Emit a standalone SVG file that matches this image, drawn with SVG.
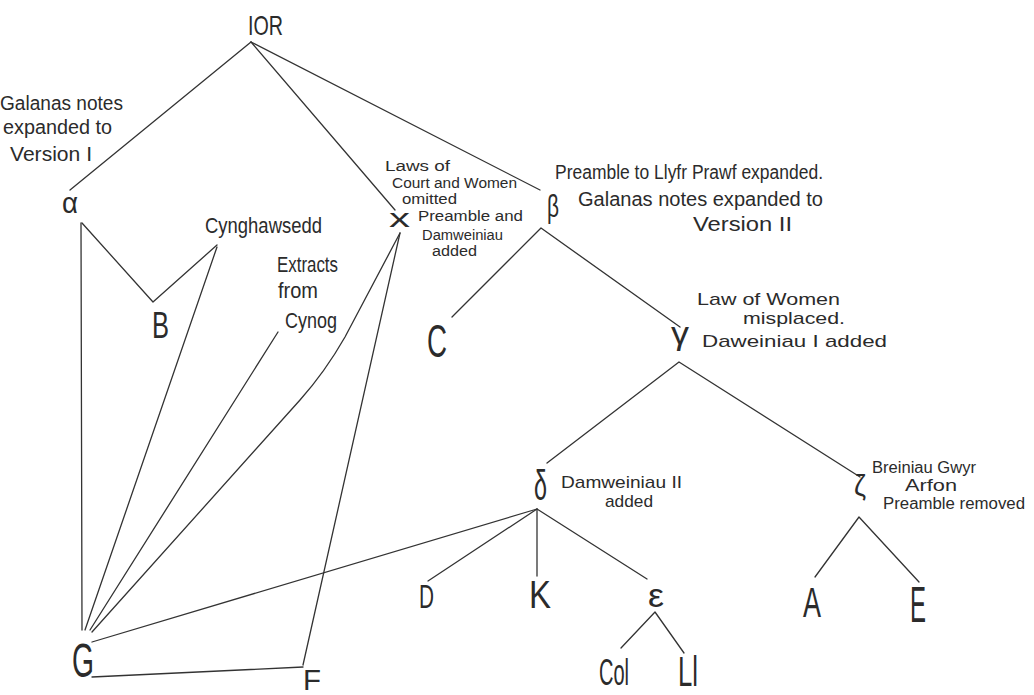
<svg xmlns="http://www.w3.org/2000/svg" width="1034" height="695" viewBox="0 0 1034 695">
<style>
.l{stroke:#333;stroke-width:1.3;fill:none;stroke-linecap:round;stroke-linejoin:round}
text{font-family:"Liberation Sans",Arial,sans-serif;fill:#2b2b2b}
.a{font-size:20px}
.s{font-size:14px}
.m{font-size:17px}
.z{font-size:16px}
</style>
<rect width="1034" height="695" fill="#ffffff"/>
<g id="connectors">
<path class="l" d="M251,42 L70,190"/>
<path class="l" d="M251,42 L395,210"/>
<path class="l" d="M251,42 L540,190"/>
<path class="l" d="M81,223 L82,630"/>
<path class="l" d="M82,223 L153,302 L217,245"/>
<path class="l" d="M217,247 L85,630"/>
<path class="l" d="M278,332 L90,630"/>
<path class="l" d="M400,233 L345,337 Q325,372 300,400 L92,632"/>
<path class="l" d="M400,233 L303,665"/>
<path class="l" d="M92,677 L303,667"/>
<path class="l" d="M537,509 L92,642"/>
<path class="l" d="M452,317 L541,228 L680,327"/>
<path class="l" d="M547,463 L679,362 L860,477"/>
<path class="l" d="M428,581 L537,509 L647,579"/>
<path class="l" d="M537,509 L537,576"/>
<path class="l" d="M621,648 L655,612 L684,653"/>
<path class="l" d="M815,577 L859,517 L919,582"/>
</g>
<g id="node-IOR"><text x="248" y="35" font-size="28" textLength="35" lengthAdjust="spacingAndGlyphs">IOR</text></g>
<g id="node-alpha">
<text x="62" y="213" font-size="30" textLength="16" lengthAdjust="spacingAndGlyphs">α</text>
<text class="a" x="0" y="110" textLength="123" lengthAdjust="spacingAndGlyphs">Galanas notes</text>
<text class="a" x="3" y="134" textLength="109" lengthAdjust="spacingAndGlyphs">expanded to</text>
<text class="a" x="10" y="161" textLength="82" lengthAdjust="spacingAndGlyphs">Version I</text>
</g>
<g id="node-x">
<text x="389" y="227" font-size="26" textLength="21" lengthAdjust="spacingAndGlyphs">x</text>
<text class="s" x="385" y="171" textLength="65" lengthAdjust="spacingAndGlyphs">Laws of</text>
<text class="s" x="392" y="188" textLength="125" lengthAdjust="spacingAndGlyphs">Court and Women</text>
<text class="s" x="402" y="204" textLength="55" lengthAdjust="spacingAndGlyphs">omitted</text>
<text class="s" x="418" y="221" textLength="105" lengthAdjust="spacingAndGlyphs">Preamble and</text>
<text class="s" x="422" y="240" textLength="81" lengthAdjust="spacingAndGlyphs">Damweiniau</text>
<text class="s" x="432" y="256" textLength="45" lengthAdjust="spacingAndGlyphs">added</text>
</g>
<g id="node-beta">
<text x="547" y="217" font-size="32" textLength="12" lengthAdjust="spacingAndGlyphs">β</text>
<text font-size="20" x="555" y="179" textLength="268" lengthAdjust="spacingAndGlyphs">Preamble to Llyfr Prawf expanded.</text>
<text font-size="20" x="578" y="206" textLength="245" lengthAdjust="spacingAndGlyphs">Galanas notes expanded to</text>
<text font-size="20" x="693" y="231" textLength="99" lengthAdjust="spacingAndGlyphs">Version II</text>
</g>
<g id="node-Cynghawsedd"><text font-size="22" x="205" y="233" textLength="117" lengthAdjust="spacingAndGlyphs">Cynghawsedd</text></g>
<g id="node-Cynog">
<text font-size="22" x="277" y="272" textLength="61" lengthAdjust="spacingAndGlyphs">Extracts</text>
<text font-size="22" x="278" y="298" textLength="40" lengthAdjust="spacingAndGlyphs">from</text>
<text font-size="22" x="285" y="328" textLength="52" lengthAdjust="spacingAndGlyphs">Cynog</text>
</g>
<g id="node-B"><text x="152" y="338" font-size="36" textLength="17" lengthAdjust="spacingAndGlyphs">B</text></g>
<g id="node-C"><text x="427" y="357" font-size="46" textLength="20" lengthAdjust="spacingAndGlyphs">C</text></g>
<g id="node-gamma">
<text x="671" y="344" font-size="32" textLength="18" lengthAdjust="spacingAndGlyphs">γ</text>
<text class="m" x="697" y="305" textLength="143" lengthAdjust="spacingAndGlyphs">Law of Women</text>
<text class="m" x="743" y="324" textLength="102" lengthAdjust="spacingAndGlyphs">misplaced.</text>
<text class="m" font-size="19" x="702" y="347" textLength="185" lengthAdjust="spacingAndGlyphs">Daweiniau I added</text>
</g>
<g id="node-delta">
<text x="534" y="500" font-size="42" textLength="13" lengthAdjust="spacingAndGlyphs">δ</text>
<text class="m" x="561" y="488" textLength="121" lengthAdjust="spacingAndGlyphs">Damweiniau II</text>
<text class="m" x="605" y="507" textLength="48" lengthAdjust="spacingAndGlyphs">added</text>
</g>
<g id="node-zeta">
<text x="854" y="496" font-size="30" textLength="12" lengthAdjust="spacingAndGlyphs">ζ</text>
<text class="z" x="872" y="473" textLength="104" lengthAdjust="spacingAndGlyphs">Breiniau Gwyr</text>
<text class="z" x="905" y="491" textLength="52" lengthAdjust="spacingAndGlyphs">Arfon</text>
<text class="z" x="883" y="509" textLength="142" lengthAdjust="spacingAndGlyphs">Preamble removed</text>
</g>
<g id="node-D"><text x="419" y="608" font-size="34" textLength="15" lengthAdjust="spacingAndGlyphs">D</text></g>
<g id="node-K"><text x="529" y="608" font-size="38" textLength="22" lengthAdjust="spacingAndGlyphs">K</text></g>
<g id="node-epsilon"><text x="648" y="607" font-size="34" textLength="16" lengthAdjust="spacingAndGlyphs">ε</text></g>
<g id="node-Col"><text x="599" y="685" font-size="36" textLength="30" lengthAdjust="spacingAndGlyphs">Col</text></g>
<g id="node-Ll"><text x="678" y="686" font-size="42" textLength="20" lengthAdjust="spacingAndGlyphs">Ll</text></g>
<g id="node-A"><text x="803" y="617" font-size="42" textLength="18" lengthAdjust="spacingAndGlyphs">A</text></g>
<g id="node-E"><text x="910" y="622" font-size="50" textLength="16" lengthAdjust="spacingAndGlyphs">E</text></g>
<g id="node-G"><text x="72" y="677" font-size="48" textLength="22" lengthAdjust="spacingAndGlyphs">G</text></g>
<g id="node-F"><text x="303" y="690" font-size="29" textLength="18" lengthAdjust="spacingAndGlyphs">F</text></g>
</svg>
